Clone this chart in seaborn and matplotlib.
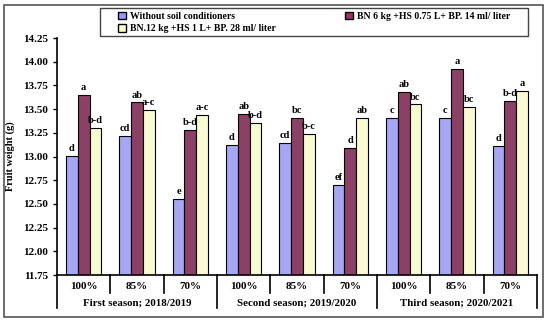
import pandas as pd
import seaborn as sns
import matplotlib.pyplot as plt
from matplotlib.patches import Rectangle, Patch
import matplotlib.transforms as mtransforms

# Data
seasons = ["First season; 2018/2019", "Second season; 2019/2020", "Third season; 2020/2021"]
levels = ["100%", "85%", "70%"]
treatments = ["Without soil conditioners",
              "BN 6 kg +HS 0.75 L+ BP. 14 ml/ liter",
              "BN.12 kg +HS 1 L+ BP. 28 ml/ liter"]

without = [13.01, 13.22, 12.55, 13.12, 13.14, 12.70, 13.41, 13.41, 13.11]
bn6 = [13.65, 13.57, 13.28, 13.45, 13.41, 13.09, 13.68, 13.92, 13.59]
bn12 = [13.30, 13.49, 13.44, 13.35, 13.24, 13.41, 13.55, 13.52, 13.69]

letters_without = ["d", "cd", "e", "d", "cd", "ef", "c", "c", "d"]
letters_bn6 = ["a", "ab", "b-d", "ab", "bc", "d", "ab", "a", "b-d"]
letters_bn12 = ["b-d", "a-c", "a-c", "b-d", "b-c", "ab", "bc", "bc", "a"]

groups = [f"{s}|{l}" for s in seasons for l in levels]
df = pd.DataFrame({
    "group": groups * 3,
    "treatment": [treatments[0]] * 9 + [treatments[1]] * 9 + [treatments[2]] * 9,
    "weight": without + bn6 + bn12,
})

colors = ["#9999FF", "#993366", "#FFFFCC"]
plt.rcParams["font.family"] = "Liberation Serif"
plt.rcParams["font.weight"] = "bold"

fig = plt.figure(figsize=(5.5, 3.25), dpi=100)
ax = fig.add_axes([0.1036, 0.1538, 0.8727, 0.7292])

sns.barplot(data=df, x="group", y="weight", hue="treatment", order=groups,
            hue_order=treatments, palette=colors, width=0.66,
            edgecolor="black", linewidth=0.8, ax=ax, legend=False)

ax.set_ylim(11.75, 14.25)
ax.set_xlim(-0.5, 8.5)
ax.set_yticks([11.75 + 0.25 * i for i in range(11)])
ax.set_yticklabels([f"{11.75 + 0.25 * i:.2f}" for i in range(11)], fontsize=8, fontweight="bold")
ax.tick_params(axis="y", length=3, width=1, direction="out")
ax.set_ylabel("Fruit weight (g)", fontsize=7.5, fontweight="bold", labelpad=6)
ax.set_xlabel("")
ax.set_xticks(range(9))
ax.set_xticklabels(levels * 3, fontsize=8, fontweight="bold")
ax.tick_params(axis="x", length=0, pad=5)
ax.spines["top"].set_visible(False)
ax.spines["right"].set_visible(False)
for sp in ["left", "bottom"]:
    ax.spines[sp].set_linewidth(1.2)

# significance letters
for cont, lets in zip(ax.containers, [letters_without, letters_bn6, letters_bn12]):
    for bar, t in zip(cont, lets):
        ax.text(bar.get_x() + bar.get_width() / 2, bar.get_height() + 0.03, t,
                ha="center", va="bottom", fontsize=7.5, fontweight="bold")

# category separators below the axis
trans = mtransforms.blended_transform_factory(ax.transData, ax.transAxes)
for i in range(10):
    x = i - 0.5
    low = -0.14 if i % 3 == 0 else -0.075
    ax.plot([x, x], [0, low], color="black", lw=1.2, transform=trans, clip_on=False)
for k, s in enumerate(seasons):
    ax.text(3 * k + 1, -0.12, s, transform=trans, ha="center", va="center",
            fontsize=7.8, fontweight="bold")

# legend (frame drawn separately so the entries can sit indented)
handles = [Patch(facecolor=colors[0], edgecolor="black", label=treatments[0]),
           Patch(facecolor=colors[2], edgecolor="black", label=treatments[2]),
           Patch(facecolor=colors[1], edgecolor="black", label=treatments[1])]
fig.legend(handles=handles, ncol=2, loc="center left",
           bbox_to_anchor=(118 / 550, 1 - 22.5 / 325, 392 / 550, 0.0), mode="expand",
           fontsize=7, frameon=False, handlelength=0.8, handleheight=0.8,
           handletextpad=0.4, borderpad=0, labelspacing=0.35, borderaxespad=0)
fig.patches.append(Rectangle((100 / 550, 1 - 36 / 325), 428 / 550, 28 / 325,
                             transform=fig.transFigure, fill=False,
                             edgecolor="#444444", linewidth=1.0))

# outer frame
fig.patches.append(Rectangle((4 / 550, 8 / 325), 539 / 550, 312 / 325,
                             transform=fig.transFigure, fill=False,
                             edgecolor="#555555", linewidth=1.2))

fig.savefig("out.png", dpi=100)
